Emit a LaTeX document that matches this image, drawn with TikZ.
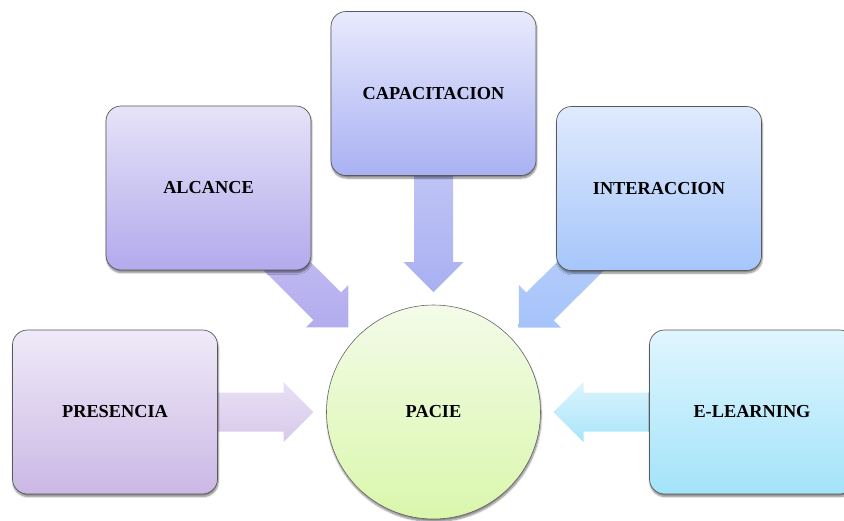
\documentclass[tikz,border=0pt]{standalone}
\usepackage{fontspec}
\setmainfont{Liberation Serif}
\usetikzlibrary{calc,shadows.blur}

\pgfdeclarelayer{background}
\pgfsetlayers{background,main}

% colours of the boxes (top / bottom)
\definecolor{presA}{HTML}{EFEAF8}
\definecolor{presB}{HTML}{CBB8E5}
\definecolor{alcA}{HTML}{E6E3F8}
\definecolor{alcB}{HTML}{B2AAEC}
\definecolor{capA}{HTML}{E8EAFC}
\definecolor{capB}{HTML}{A9B1F3}
\definecolor{intA}{HTML}{DFEAFD}
\definecolor{intB}{HTML}{A6C6FB}
\definecolor{elA}{HTML}{E0F6FE}
\definecolor{elB}{HTML}{A3E3FA}
\definecolor{pacA}{HTML}{F3FBE8}
\definecolor{pacB}{HTML}{DAF7AC}
% colours of the arrows
\definecolor{fpresA}{HTML}{E8E0F4}
\definecolor{fpresB}{HTML}{D7C9EB}
\definecolor{falcA}{HTML}{CEC9F4}
\definecolor{falcB}{HTML}{B3ACEE}
\definecolor{fcapA}{HTML}{CDD2F7}
\definecolor{fcapB}{HTML}{A9B0F1}
\definecolor{fintA}{HTML}{C0D7FB}
\definecolor{fintB}{HTML}{A6C3FA}
\definecolor{felA}{HTML}{DBF4FD}
\definecolor{felB}{HTML}{A9E5FA}

% block arrow from the centre of #1 towards #2, stopping short of its border
\newcommand\flecha[4]{%
  \shade[top color=#3, bottom color=#4]
    let \p1 = (#1), \p2 = ($(#2)!120pt!(#1)$),
        \n1 = {atan2(\y2-\y1,\x2-\x1)}, \n2 = {veclen(\x2-\x1,\y2-\y1)} in
    [shift={(\p1)}, rotate=\n1]
    (0,-19.5) -- (\n2-30,-19.5) -- (\n2-30,-30) -- (\n2,0)
    -- (\n2-30,30) -- (\n2-30,19.5) -- (0,19.5) -- cycle;}

\begin{document}
\begin{tikzpicture}[x=1pt, y=-1pt,
  every node/.style = {font=\bfseries\fontsize{18.3}{21}\selectfont, align=center},
  sombra/.style = {blur shadow={shadow xshift=0.6pt, shadow yshift=-2.5pt,
    shadow blur steps=6, shadow opacity=50}},
  caja/.style 2 args = {shape=rectangle, rounded corners=15pt,
    draw=black!65, line width=0.7pt,
    minimum width=205pt, minimum height=164pt,
    top color=#1, bottom color=#2, sombra},
  centro/.style = {shape=circle, draw=black!60, line width=0.6pt,
    minimum size=214pt, inner sep=0pt,
    top color=pacA, bottom color=pacB, sombra}]
  \path[use as bounding box, clip] (0,0) rectangle (844,520);

  \node[caja={presA}{presB}] (presencia) at (115,412) {PRESENCIA};
  \node[caja={alcA}{alcB}] (alcance) at (208.5,188) {ALCANCE};
  \node[caja={capA}{capB}] (capacitacion) at (433.5,93.5) {CAPACITACION};
  \node[caja={intA}{intB}] (interaccion) at (659,188.5) {INTERACCION};
  \node[caja={elA}{elB}] (elearning) at (752,412) {E-LEARNING};
  \node[centro] (pacie) at (433.5,412) {PACIE};

  \begin{pgfonlayer}{background}
    \flecha{presencia}{pacie}{fpresA}{fpresB}
    \flecha{alcance}{pacie}{falcA}{falcB}
    \flecha{capacitacion}{pacie}{fcapA}{fcapB}
    \flecha{interaccion}{pacie}{fintA}{fintB}
    \flecha{elearning}{pacie}{felA}{felB}
  \end{pgfonlayer}
\end{tikzpicture}
\end{document}
